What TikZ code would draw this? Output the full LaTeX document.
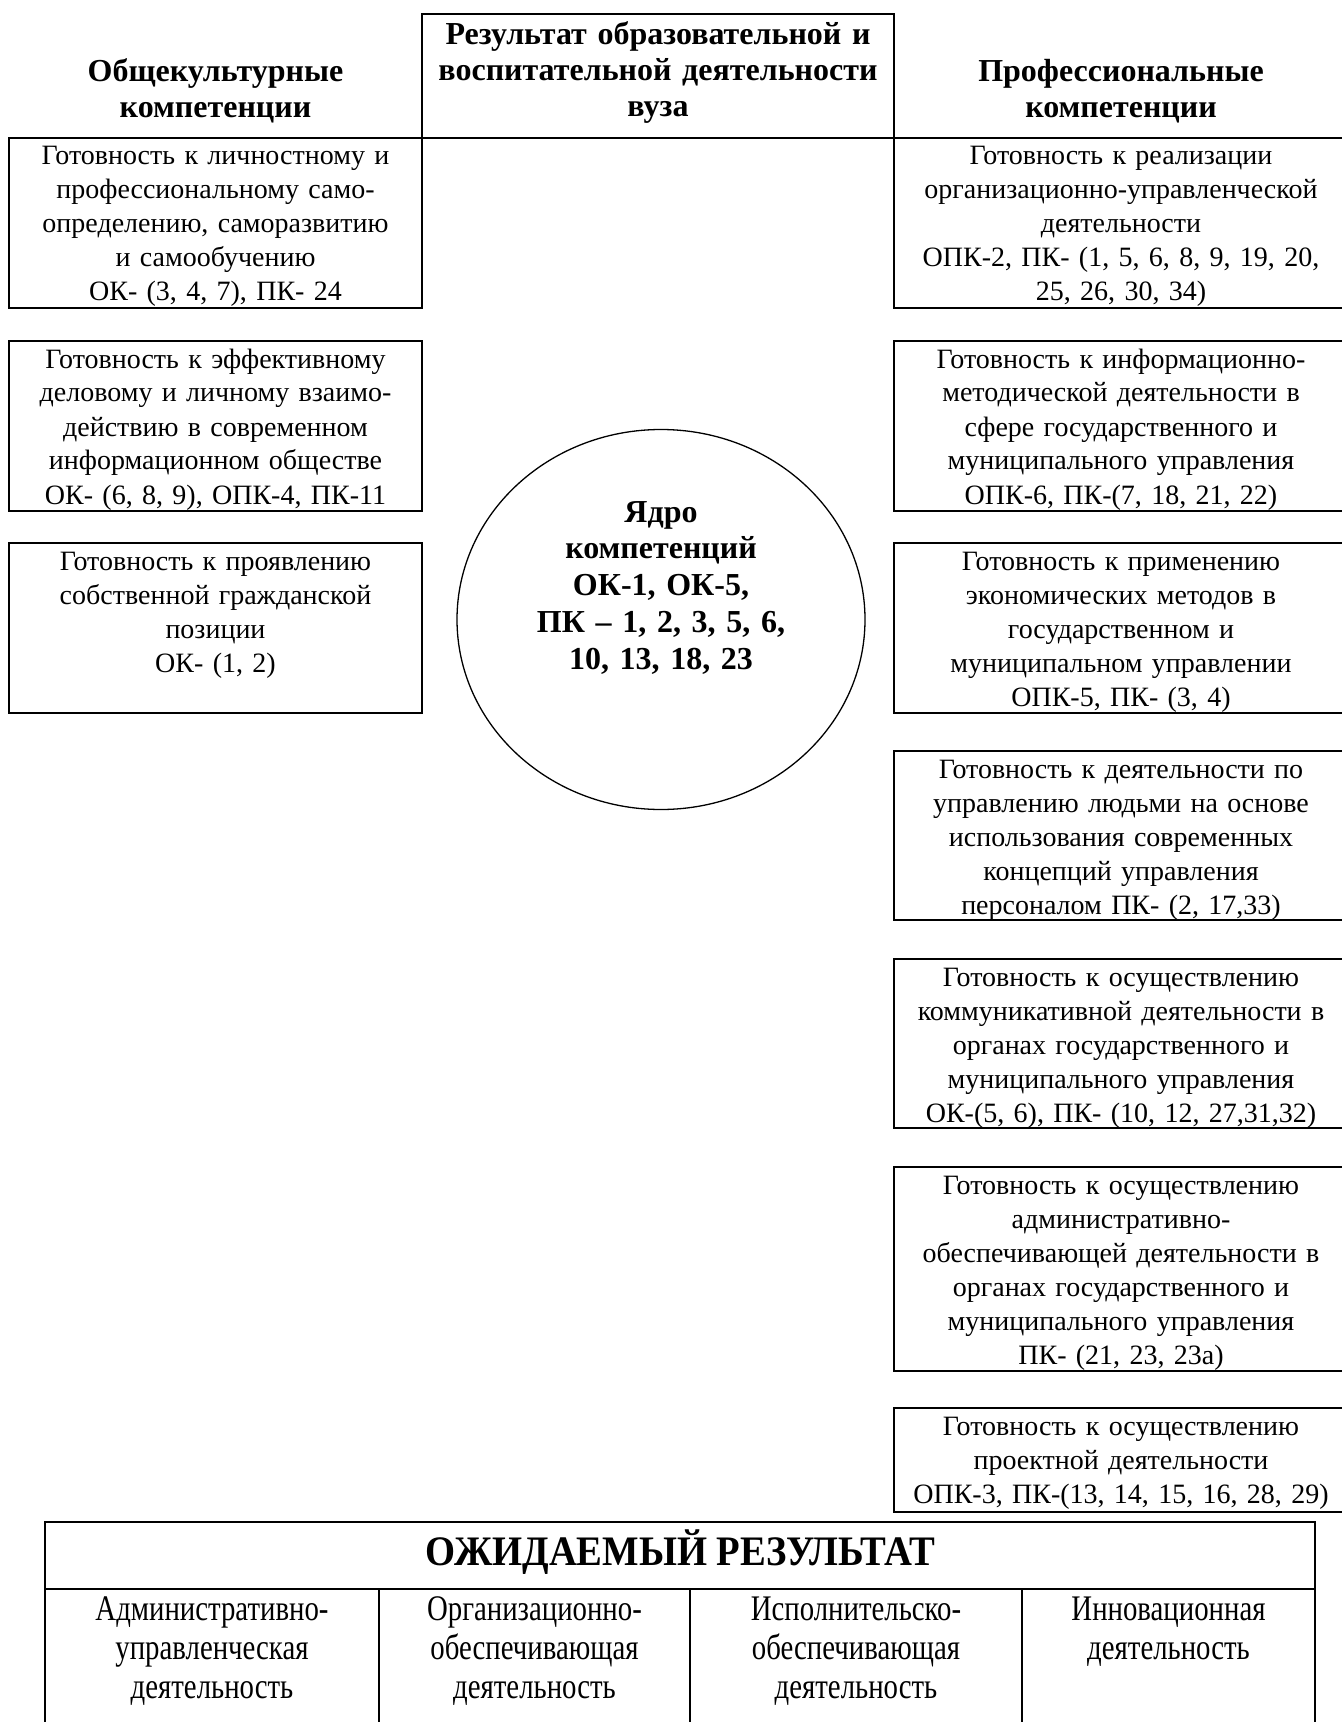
\documentclass[tikz,border=0pt]{standalone}
\usepackage{fontspec}
\setmainfont{Liberation Serif}
\newfontfamily\narrowfont[FakeStretch=0.8]{Liberation Serif}
\newfontfamily\titlefont[FakeStretch=0.92]{Liberation Serif}
\usetikzlibrary{shapes.geometric,calc}

\begin{document}
\begin{tikzpicture}[
    x=0.5pt, y=-0.5pt, line join=miter,
    cell/.style={draw, line width=1pt, anchor=north west, inner sep=0pt, outer sep=0pt},
    celltxt/.style={anchor=base, align=center, inner sep=0pt, font=\fontsize{14}{17}\selectfont},
    hdtxt/.style={anchor=base, align=center, inner sep=0pt, text width=220pt, font=\fontsize{16}{17.8}\selectfont\bfseries},
    core/.style={draw, ellipse, line width=0.65pt, inner sep=0pt},
    coretxt/.style={anchor=base, align=center, inner sep=0pt, text width=150pt, font=\fontsize{16}{18.4}\selectfont\bfseries},
    rescell/.style={draw, line width=0.75pt, anchor=north west, inner sep=0pt, outer sep=0pt},
    restxt/.style={anchor=base, align=center, inner sep=0pt, font=\narrowfont\fontsize{18}{19.5}\selectfont}
  ]
  % ---- helpers ----
  \def\px{0.5pt} % one pixel of the layout
  \newcommand{\compbox}[6]{% name, x, y, w, h, text
    \node[cell, minimum width=#4*\px, minimum height=#5*\px] (#1) at (#2,#3) {};
    \pgfmathsetlengthmacro\tw{#4*\px-14pt}
    \node[celltxt, text width=\tw] (#1-txt) at ($(#1.north)+(0,27)$) {#6};
  }

  \useasboundingbox (0,0) rectangle (1341,1722);

  %==================== HEADER ====================
  \node[cell, minimum width=472*\px, minimum height=124*\px] (hdmid) at (422,14) {};
  \node[hdtxt] (hdleft-txt) at (215.5,82) {Общекультурные\\компетенции};
  \node[hdtxt, text width=230pt] (hdmid-txt) at (658,45) {Результат образовательной и\\воспитательной деятельности\\вуза};
  \node[hdtxt] (hdright-txt) at (1121,82) {Профессиональные\\компетенции};

  %==================== LEFT: general competences ====================
  \compbox{ok1}{9}{138}{413}{170}{Готовность к личностному и\\профессиональному само-\\определению, саморазвитию\\и самообучению\\ОК- (3, 4, 7), ПК- 24}
  \compbox{ok2}{9}{341}{413}{170}{Готовность к эффективному\\деловому и личному взаимо-\\действию в современном\\информационном обществе\\ОК- (6, 8, 9), ОПК-4, ПК-11}
  \compbox{ok3}{9}{543}{413}{170}{Готовность к проявлению\\собственной гражданской\\позиции\\ОК- (1, 2)}

  %==================== RIGHT: professional competences ====================
  \compbox{pk1}{894}{138}{454}{170}{Готовность к реализации\\организационно-управленческой\\деятельности\\ОПК-2, ПК- (1, 5, 6, 8, 9, 19, 20,\\25, 26, 30, 34)}
  \compbox{pk2}{894}{341}{454}{170}{Готовность к информационно-\\методической деятельности в\\сфере государственного и\\муниципального управления\\ОПК-6, ПК-(7, 18, 21, 22)}
  \compbox{pk3}{894}{543}{454}{170}{Готовность к применению\\экономических методов в\\государственном и\\муниципальном управлении\\ОПК-5, ПК- (3, 4)}
  \compbox{pk4}{894}{751}{454}{169}{Готовность к деятельности по\\управлению людьми на основе\\использования современных\\концепций управления\\персоналом ПК- (2, 17,33)}
  \compbox{pk5}{894}{959}{454}{169}{Готовность к осуществлению\\коммуникативной деятельности в\\органах государственного и\\муниципального управления\\ОК-(5, 6), ПК- (10, 12, 27,31,32)}
  \compbox{pk6}{894}{1167}{454}{204}{Готовность к осуществлению\\административно-\\обеспечивающей деятельности в\\органах государственного и\\муниципального управления\\ПК- (21, 23, 23а)}
  \compbox{pk7}{894}{1408}{454}{104}{Готовность к осуществлению\\проектной деятельности\\ОПК-3, ПК-(13, 14, 15, 16, 28, 29)}

  %==================== CORE ====================
  \node[core, minimum width=408*\px, minimum height=380*\px] (core) at (661,619.5) {};
  \node[coretxt] (core-txt) at (661,522) {Ядро\\компетенций\\ОК-1, ОК-5,\\ПК – 1, 2, 3, 5, 6,\\10, 13, 18, 23};

  %==================== EXPECTED RESULT ====================
  \node[rescell, minimum width=1270*\px, minimum height=67*\px] (res) at (45,1522) {};
  \node[restxt, font=\titlefont\bfseries\fontsize{21}{23}\selectfont] (res-txt) at (680,1565) {ОЖИДАЕМЫЙ РЕЗУЛЬТАТ};
  \foreach \nm/\xa/\w/\txt in {
      act1/45/334/{Административно-\\управленческая\\деятельность},
      act2/379/311/{Организационно-\\обеспечивающая\\деятельность},
      act3/690/332/{Исполнительско-\\обеспечивающая\\деятельность},
      act4/1022/293/{Инновационная\\деятельность}
    } {
      \node[rescell, minimum width=\w*\px, minimum height=135*\px] (\nm) at (\xa,1589) {};
      \node[restxt, text width=140pt] (\nm-txt) at ($(\nm.north)+(0,31)$) {\txt};
    }

\end{tikzpicture}
\end{document}
